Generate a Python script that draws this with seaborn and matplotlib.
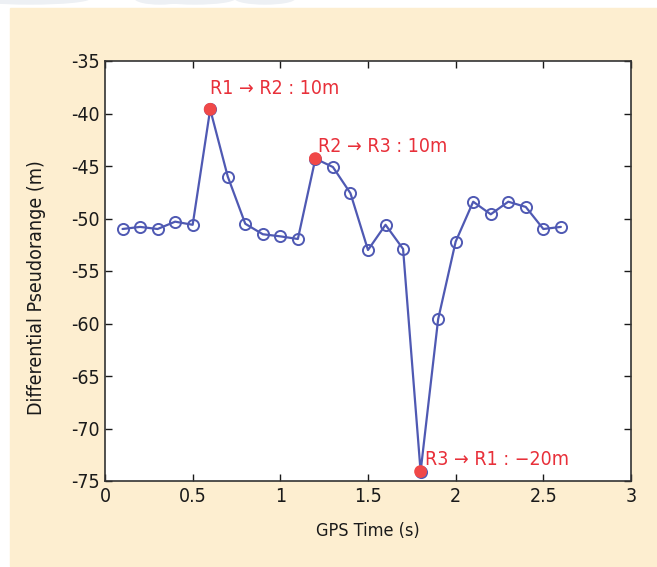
import numpy as np
import pandas as pd
import matplotlib.pyplot as plt
import matplotlib.patches as mpatches
import seaborn as sns

# data
gps_time = [0.1, 0.2, 0.3, 0.4, 0.5, 0.6, 0.7, 0.8, 0.9, 1.0, 1.1, 1.2, 1.3,
            1.4, 1.5, 1.6, 1.7, 1.8, 1.9, 2.0, 2.1, 2.2, 2.3, 2.4, 2.5, 2.6]
pseudorange = [-51.0, -50.8, -51.0, -50.3, -50.6, -39.6, -46.0, -50.5, -51.5,
               -51.7, -51.95, -44.3, -45.1, -47.6, -53.0, -50.6, -52.9, -74.1,
               -59.6, -52.2, -48.4, -49.6, -48.4, -48.9, -51.0, -50.8]
switch_time = [0.6, 1.2, 1.8]
switch_range = [-39.6, -44.3, -74.1]
switch_labels = ["R1 → R2 : 10m", "R2 → R3 : 10m", "R3 → R1 : \u221220m"]
label_offsets = [(0, 8), (2, 2), (3, 2)]
x_ticks = [0, 0.5, 1, 1.5, 2, 2.5, 3]
x_ticklabels = ["0", "0.5", "1", "1.5", "2", "2.5", "3"]
y_ticks = [-75, -70, -65, -60, -55, -50, -45, -40, -35]

df = pd.DataFrame({"t": gps_time, "r": pseudorange})
sw = pd.DataFrame({"t": switch_time, "r": switch_range})

sns.set_style("ticks")
plt.rcParams['font.family'] = ['DejaVu Sans']
plt.rcParams['font.stretch'] = 'condensed'
plt.rcParams['axes.unicode_minus'] = False

fig = plt.figure(figsize=(6.57, 5.67), dpi=100, facecolor="white")
# beige panel behind the chart
fig.patches.append(mpatches.Rectangle((10 / 657, 1 - 566 / 567), 647 / 657, 558 / 567,
                                      transform=fig.transFigure, color="#fdeed0", zorder=-2))
# faint cut-off logo shapes at the very top
for cx, w in [(30, 120), (160, 50), (195, 80), (265, 60)]:
    fig.patches.append(mpatches.Ellipse((cx / 657, 1 + 2 / 567), w / 657, 12 / 567,
                                        transform=fig.transFigure, color="#edf0f4", zorder=-2))

ax = fig.add_axes([105 / 657, 1 - 481 / 567, 526 / 657, 420 / 567])
ax.set_facecolor("white")

sns.lineplot(data=df, x="t", y="r", ax=ax, color="#4f59b3", linewidth=1.6,
             marker="o", markersize=8, markerfacecolor="none",
             markeredgecolor="#4f59b3", markeredgewidth=1.4)
sns.scatterplot(data=sw, x="t", y="r", ax=ax, color="#f04848", s=85,
                edgecolor="none", alpha=1, zorder=5)

for t, r, txt, off in zip(switch_time, switch_range, switch_labels, label_offsets):
    ax.annotate(txt, (t, r), xytext=off, textcoords="offset points",
                color="#e8303a", fontsize=14, ha="left", va="bottom")

ax.set_xlim(0, 3)
ax.set_ylim(-75, -35)
ax.set_xticks(x_ticks)
ax.set_xticklabels(x_ticklabels)
ax.set_yticks(y_ticks)
ax.tick_params(direction="in", top=True, right=True, length=5, width=1,
               labelsize=14, colors="#1a1a1a", pad=4)
for s in ax.spines.values():
    s.set_color("#333333")
    s.set_linewidth(1.2)
ax.set_xlabel("GPS Time (s)", fontsize=13, color="#1a1a1a", labelpad=12)
ax.set_ylabel("Differential Pseudorange (m)", fontsize=14, color="#1a1a1a")
ax.yaxis.set_label_coords(-0.112, 0.46)

fig.savefig("out.png", dpi=100)
